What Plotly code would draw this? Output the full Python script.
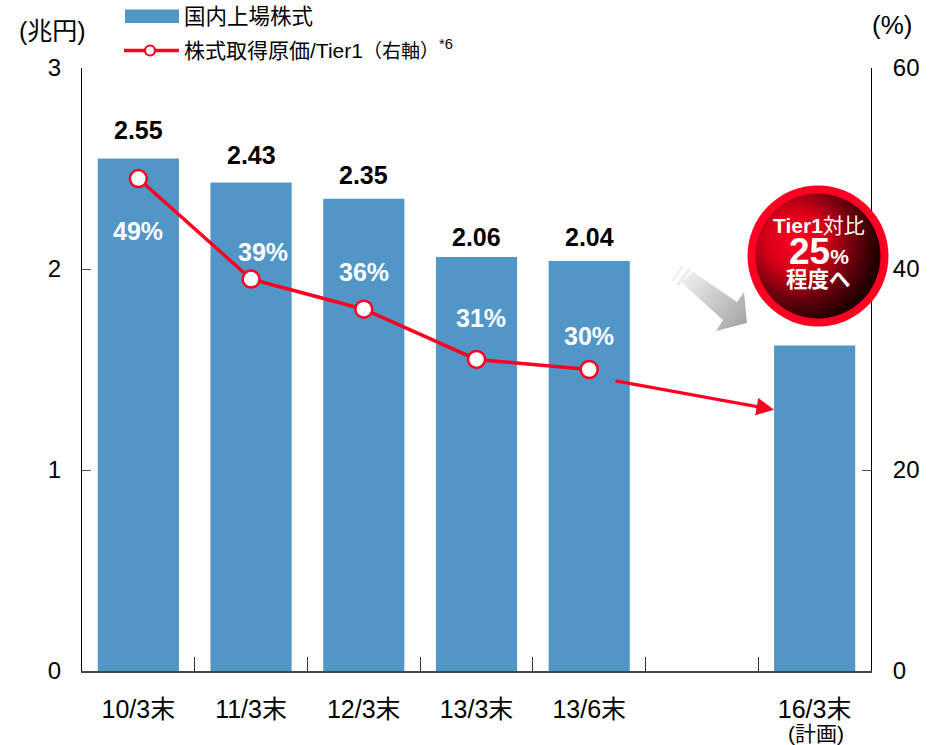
import base64
import plotly.graph_objects as go

FONT = "Liberation Sans, Arial, Noto Sans CJK JP, sans-serif"
categories = ["10/3末", "11/3末", "12/3末", "13/3末", "13/6末", " ", "16/3末"]
tick_labels = ["10/3末", "11/3末", "12/3末", "13/3末", "13/6末", " ", "16/3末"]
plan_note = "(計画)"
stock_values = [2.55, 2.43, 2.35, 2.06, 2.04, None, 1.62]
ratio_categories = ["10/3末", "11/3末", "12/3末", "13/3末", "13/6末"]
labelled_stock = [2.55, 2.43, 2.35, 2.06, 2.04]
stock_label_shift = [28, 28, 24, 20, 24]
ratio_values = [49, 39, 36, 31, 30]
ratio_label_shift = [(0, -52), (12, 27), (0, 37), (4, 41), (0, 34)]
BLUE, RED = "#5296c8", "#ff0022"

W, H = 939, 745
L, R, T, B = 82, 68, 68, 74
PW, PH = W - L - R, H - T - B


def px(v):
    return (v - L) / PW


def py(v):
    return 1 - (v - T) / PH


def svg_uri(s):
    return "data:image/svg+xml;base64," + base64.b64encode(s.encode()).decode()


badge = """<svg xmlns='http://www.w3.org/2000/svg' width='144' height='144' viewBox='0 0 144 144'>
<defs>
<radialGradient id='g' gradientUnits='userSpaceOnUse' cx='50' cy='56' r='84'>
<stop offset='0' stop-color='#ff0022'/><stop offset='0.35' stop-color='#d80018'/>
<stop offset='0.7' stop-color='#6a000c'/><stop offset='1' stop-color='#200000'/>
</radialGradient></defs>
<circle cx='72' cy='72' r='70.5' fill='#ff0022'/>
<circle cx='72' cy='72' r='62.5' fill='url(#g)'/></svg>"""

# 90x80 canvas, origin at page pixel (670,262)
arrow = """<svg xmlns='http://www.w3.org/2000/svg' width='90' height='80' viewBox='0 0 90 80'>
<defs><linearGradient id='a' gradientUnits='userSpaceOnUse' x1='12' y1='8' x2='76' y2='60'>
<stop offset='0' stop-color='#f4f4f4'/><stop offset='1' stop-color='#a6a6a6'/></linearGradient></defs>
<polygon fill='#f0f0f0' points='12,3 14,5 3,20 1,18'/>
<polygon fill='#ececec' points='18,6 21,8 9,24 6,22'/>
<polygon fill='url(#a)' points='23,10 67,40 74,30 77,61 46,69 53,58 11,20'/></svg>"""

fig = go.Figure()
fig.add_bar(x=categories, y=stock_values, marker=dict(color=BLUE, line=dict(width=0)),
            width=0.72, yaxis="y", showlegend=False, hoverinfo="skip")
fig.add_scatter(x=ratio_categories, y=ratio_values, yaxis="y2", mode="lines+markers",
                line=dict(color=RED, width=3.5),
                marker=dict(size=17, color="white", line=dict(color=RED, width=2.5)),
                showlegend=False, hoverinfo="skip")

ann = []
for c, v, dy in zip(ratio_categories, labelled_stock, stock_label_shift):
    ann.append(dict(x=c, y=v, xref="x", yref="y", text=f"<b>{v:.2f}</b>", showarrow=False,
                    yshift=dy, font=dict(size=25, color="black", family=FONT)))
for c, v, (dx, dy) in zip(ratio_categories, ratio_values, ratio_label_shift):
    ann.append(dict(x=c, y=v, xref="x", yref="y2", text=f"<b>{v}%</b>", showarrow=False,
                    xshift=dx, yshift=dy, font=dict(size=25, color="white", family=FONT)))

# forecast arrow, in the axes' own coordinates
ann.append(dict(x=5.64, y=26, xref="x", yref="y2", ax=4.22, ay=28.9, axref="x", ayref="y2",
                text="", showarrow=True, arrowhead=2, arrowsize=1.1, arrowwidth=3.2,
                arrowcolor=RED))


def page_text(x, y, text, size, color="black", anchor="center", **kw):
    ann.append(dict(x=px(x), y=py(y), xref="paper", yref="paper", text=text, showarrow=False,
                    xanchor=anchor, yanchor="middle",
                    font=dict(size=size, color=color, family=FONT), **kw))


page_text(52, 31, "(兆円)", 25)
page_text(892, 25, "(%)", 26)
page_text(182, 16.5, "国内上場株式", 21.5, anchor="left")
page_text(182, 49.5, "株式取得原価/Tier1<span style='font-size:19px'>（右軸）</span><sup>*6</sup>", 21, anchor="left")
page_text(819, 225, "<b>Tier1</b><span style='font-size:21px'>対比</span>", 21, "white")
page_text(819, 252, "<b>25<span style='font-size:21px'>%</span></b>", 37, "white")
page_text(818, 280, "<b>程度へ</b>", 21.5, "white")
page_text(816, 733, plan_note, 21)

shapes = [
    dict(type="rect", xref="paper", yref="paper", x0=px(125), x1=px(179), y0=py(23), y1=py(9.5),
         fillcolor=BLUE, line_width=0),
    dict(type="line", xref="paper", yref="paper", x0=px(124), x1=px(179), y0=py(50.5), y1=py(50.5),
         line=dict(color=RED, width=3.5)),
    dict(type="circle", xref="paper", yref="paper", x0=px(145), x1=px(155), y0=py(45.5), y1=py(55.5),
         fillcolor="white", line=dict(color=RED, width=2.2)),
]

images = [
    dict(source=svg_uri(arrow), xref="paper", yref="paper", x=px(670), y=py(262),
         sizex=90 / PW, sizey=80 / PH, xanchor="left", yanchor="top", sizing="stretch", layer="above"),
    dict(source=svg_uri(badge), xref="paper", yref="paper", x=px(746), y=py(184),
         sizex=144 / PW, sizey=144 / PH, xanchor="left", yanchor="top", sizing="stretch", layer="above"),
]

fig.update_layout(
    width=W, height=H, margin=dict(l=L, r=R, t=T, b=B, pad=0, autoexpand=False),
    paper_bgcolor="white", plot_bgcolor="white", bargap=0.28,
    font=dict(family=FONT, color="black", size=22),
    annotations=ann, shapes=shapes, images=images,
    xaxis=dict(type="category", categoryorder="array", categoryarray=categories, automargin=False,
               tickmode="array", tickvals=categories, ticktext=tick_labels,
               tickson="boundaries", ticks="inside", ticklen=14, tickcolor="#333", tickwidth=1,
               showline=True, linecolor="#444", linewidth=1.5, showgrid=False, zeroline=False,
               tickfont=dict(size=25), ticklabelstandoff=15, range=[-0.5, 6.5]),
    yaxis=dict(range=[0, 3], dtick=1, ticks="inside", ticklen=9, tickcolor="#555", tickwidth=1,
               automargin=False,
               showline=True, linecolor="black", linewidth=1, showgrid=False, zeroline=False,
               tickfont=dict(size=24), ticklabelstandoff=15),
    yaxis2=dict(range=[0, 60], dtick=20, overlaying="y", side="right", ticks="inside", ticklen=9,
                automargin=False,
                tickcolor="#555", tickwidth=1, showline=True, linecolor="black", linewidth=1,
                showgrid=False, zeroline=False, tickfont=dict(size=24), ticklabelstandoff=16),
)
fig.write_html("out.html", config=dict(displayModeBar=False),
               post_script="document.body.style.margin='0';")
